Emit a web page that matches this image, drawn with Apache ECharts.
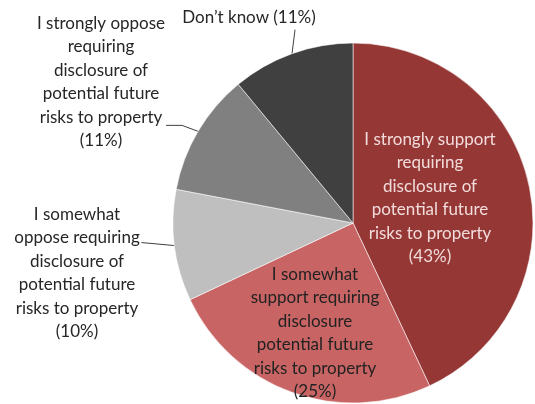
<!DOCTYPE html>
<html>
<head>
<meta charset="utf-8">
<script src="https://cdn.jsdelivr.net/npm/echarts@6/dist/echarts.min.js"></script>
<style>
  html, body { margin: 0; padding: 0; background: #fff; }
  #chart { width: 535px; height: 404px; }
</style>
</head>
<body>
<div id="chart"></div>
<script>
// Survey responses, clockwise from the top of the pie
const categories = [
  'I strongly support\nrequiring\ndisclosure of\npotential future\nrisks to property',
  'I somewhat\nsupport requiring\ndisclosure\npotential future\nrisks to property',
  'I somewhat\noppose requiring\ndisclosure of\npotential future\nrisks to property',
  'I strongly oppose\nrequiring\ndisclosure of\npotential future\nrisks to property',
  'Don’t know'
];
const shares = [43, 25, 10, 11, 11];

const sliceColors = ['#953735', '#C86464', '#BFBFBF', '#808080', '#404040'];
const textColors = ['#F2DCDB', '#222222', '#262626', '#262626', '#262626'];
const insideLabel = [true, true, false, false, false];
// label block centres in px
const labelCenters = [[430, 198], [315, 333], [77, 273], [101, 82], [249, 18]];

const chart = echarts.init(document.getElementById('chart'), null, { renderer: 'canvas' });

const data = categories.map((name, i) => ({
  name: name,
  value: shares[i],
  itemStyle: { color: sliceColors[i] },
  label: { color: textColors[i], position: insideLabel[i] ? 'inside' : 'outside' },
  labelLine: { show: !insideLabel[i] }
}));

// leader line shapes, relative to the slice's outer-edge anchor
function leader(idx, p) {
  if (idx === 4) return [p, [p[0] + 3, p[1] - 24]];
  if (idx === 3) return [p, [p[0] - 16, p[1] - 6], [p[0] - 32, p[1] - 6]];
  if (idx === 2) return [p, [p[0] - 33, p[1] - 3]];
  return null;
}

chart.setOption({
  animation: false,
  backgroundColor: '#ffffff',
  series: [{
    type: 'pie',
    center: [353, 223],
    radius: 180,
    startAngle: 90,
    clockwise: true,
    data: data,
    itemStyle: { borderColor: 'rgba(255,255,255,0.55)', borderWidth: 1 },
    label: {
      fontFamily: 'Lato, "Open Sans", sans-serif',
      fontSize: 17,
      lineHeight: 23.4,
      align: 'center',
      formatter: p => p.name + (p.name.indexOf('\n') >= 0 ? '\n' : ' ') + '(' + p.value + '%)'
    },
    labelLine: { lineStyle: { color: '#404040', width: 1 }, length: 10, length2: 10 },
    labelLayout: function (params) {
      const idx = params.dataIndex;
      const c = labelCenters[idx];
      const out = { x: c[0], y: c[1], align: 'center', verticalAlign: 'middle' };
      if (!insideLabel[idx] && params.labelLinePoints) {
        const pts = leader(idx, params.labelLinePoints[0]);
        if (pts) out.labelLinePoints = pts;
      }
      return out;
    }
  }]
});
</script>
</body>
</html>
